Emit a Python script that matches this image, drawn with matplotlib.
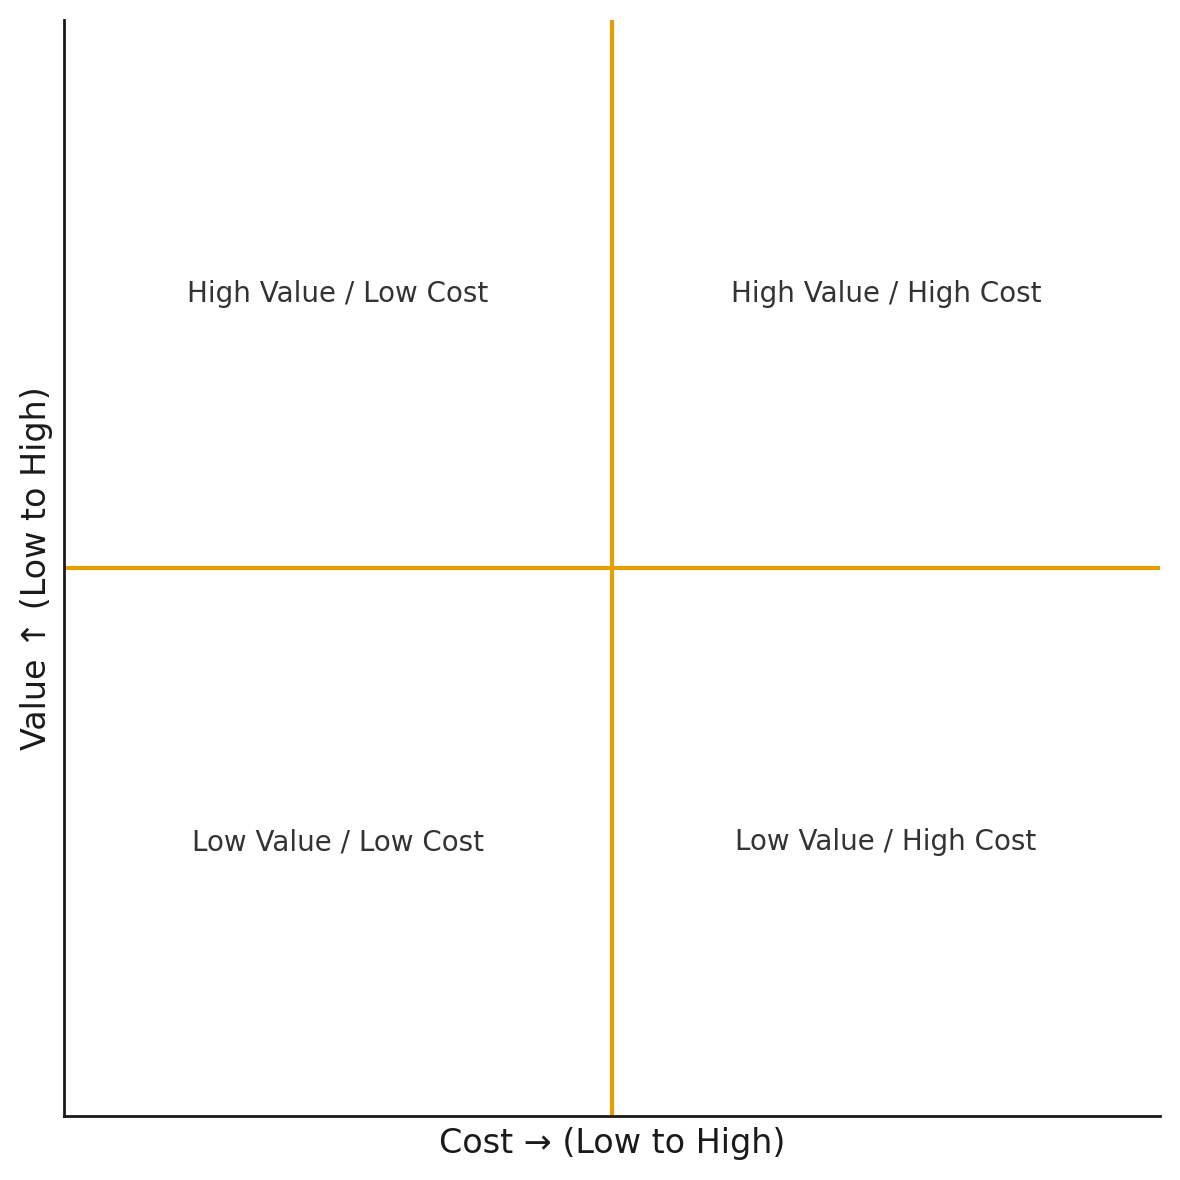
import matplotlib
matplotlib.use('Agg')
import matplotlib.pyplot as plt
import seaborn as sns

# quadrant labels and their positions (fraction of axes)
labels = ['High Value / Low Cost', 'High Value / High Cost',
          'Low Value / Low Cost', 'Low Value / High Cost']
label_x = [0.25, 0.75, 0.25, 0.75]
label_y = [0.75, 0.75, 0.25, 0.25]
mid_x = 0.5
mid_y = 0.5

sns.set_style('white')
plt.rcParams['font.family'] = ['DejaVu Sans']

fig, ax = plt.subplots(figsize=(5.9, 5.9), dpi=200)
fig.subplots_adjust(left=0.054, right=0.983, bottom=0.054, top=0.983)

ax.axvline(mid_x, color='#E69F00', lw=1.5)
ax.axhline(mid_y, color='#E69F00', lw=1.5)

for t, x, y in zip(labels, label_x, label_y):
    ax.text(x, y, t, ha='center', va='center', fontsize=10, color='#333333')

ax.set_xlim(0, 1)
ax.set_ylim(0, 1)
ax.set_xticks([])
ax.set_yticks([])
ax.set_xlabel('Cost → (Low to High)', fontsize=12, color='#1a1a1a', labelpad=4)
ax.set_ylabel('Value ↑ (Low to High)', fontsize=12, color='#1a1a1a', labelpad=4)
sns.despine(ax=ax)
for s in ['left', 'bottom']:
    ax.spines[s].set_color('#1a1a1a')
    ax.spines[s].set_linewidth(1.0)

fig.savefig('out.png', dpi=200)
